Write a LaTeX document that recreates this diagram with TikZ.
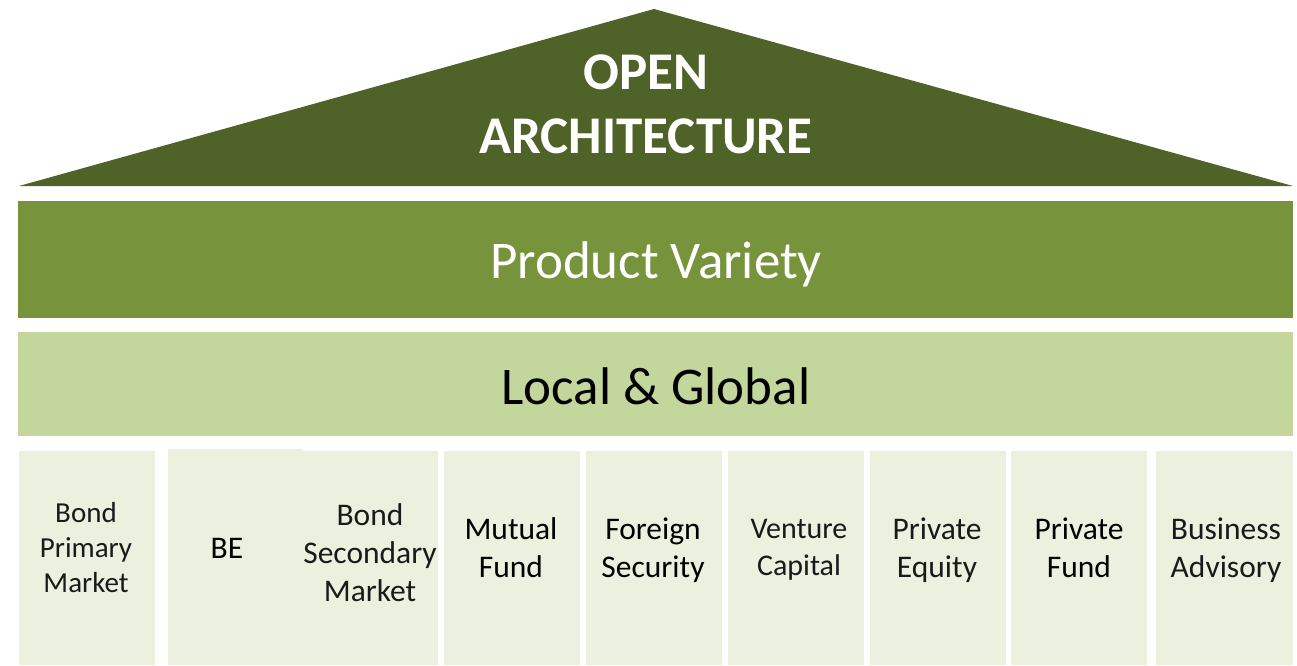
\documentclass[tikz,border=0pt]{standalone}
\usepackage{fontspec}
\setmainfont{Carlito}
\definecolor{roofc}{HTML}{4F6228}
\definecolor{midc}{HTML}{77933C}
\definecolor{lightc}{HTML}{C3D69B}
\definecolor{pillarc}{HTML}{EBF1DE}
\definecolor{lighttext}{HTML}{1A1A1A}
\tikzset{
  pillar/.style={fill=pillarc, draw=none},
  ptext/.style={align=center, font=\fontsize{29}{35}\selectfont, text=lighttext},
  ptextm/.style={align=center, font=\fontsize{30}{37}\selectfont, text=lighttext},
  ptextb/.style={align=center, font=\fontsize{31.5}{38}\selectfont, text=black},
}
\begin{document}
\begin{tikzpicture}[x=1pt,y=-1pt]
\useasboundingbox (0,0) rectangle (1297,665);
% roof
\fill[roofc] (19,186) -- (654,9) -- (1293,186) -- cycle;
\node[text=white, align=center, font=\fontsize{53}{64}\selectfont\bfseries] (roof) at (646,104) {OPEN\\ARCHITECTURE};
% bands
\fill[midc] (18,201) rectangle (1293,318);
\node[text=white, font=\fontsize{53}{56}\selectfont] (pv) at (656,264) {Product Variety};
\fill[lightc] (18,332) rectangle (1293,436);
\node[text=black, font=\fontsize{53}{56}\selectfont] (lg) at (656,386) {Local \& Global};
% pillars
\fill[pillar] (19,451) rectangle (155,665);
\fill[pillar] (168,449) rectangle (303,665);
\fill[pillar] (300,451) rectangle (438,665);
\fill[pillar] (444,451) rectangle (580,665);
\fill[pillar] (586,451) rectangle (722,665);
\fill[pillar] (728,451) rectangle (864,665);
\fill[pillar] (870,451) rectangle (1006,665);
\fill[pillar] (1011,451) rectangle (1147,665);
\fill[pillar] (1156,451) rectangle (1293,665);
\node[ptext] (p1) at (86,548) {Bond\\Primary\\Market};
\node[ptextb] (p2) at (227,548) {BE};
\node[ptextb, text=lighttext] (p3) at (370,553) {Bond\\Secondary\\Market};
\node[ptextb] (p4) at (511,548) {Mutual\\Fund};
\node[ptextb] (p5) at (653,550) {Foreign\\Security};
\node[ptextm] (p6) at (799,550) {Venture\\Capital};
\node[ptextb, text=lighttext] (p7) at (937,550) {Private\\Equity};
\node[ptextb] (p8) at (1079,548) {Private\\Fund};
\node[ptextb, text=lighttext] (p9) at (1226,550) {Business\\Advisory};
\end{tikzpicture}
\end{document}
